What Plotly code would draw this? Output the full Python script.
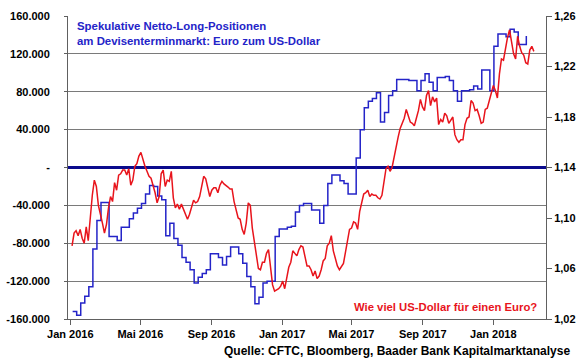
import pandas as pd
import plotly.graph_objects as go

# CFTC net long positions (contracts), weekly from 2016-01-05
cftc_start = "2016-01-05"
cftc_net = [
    -152000, -156000, -143000, -136000, -126000, -86000, -56000, -37000, -37000, -73000,
    -73000, -77000, -63000, -63000, -54000, -48000, -43000, -38000, -28000, -19000,
    -20000, -30000, -34000, -72000, -59000, -75000, -82000, -95000, -100000, -108000,
    -122000, -116000, -112000, -108000, -91000, -91000, -95000, -103000, -94000, -84000,
    -84000, -91000, -101000, -115000, -126000, -144000, -137000, -122000, -120000, -120000,
    -73000, -65000, -65000, -63000, -62000, -47000, -40000, -38000, -38000, -45000,
    -45000, -59000, -40000, -17000, -8000, -8000, -14000, -17000, -28000, -28000,
    10000, 40000, 63000, 70000, 73000, 79000, 48000, 58000, 76000, 81000,
    93000, 93000, 93000, 92000, 92000, 81000, 92000, 99000, 90000, 81000,
    95000, 95000, 96000, 92000, 81000, 70000, 81000, 81000, 82000, 86000,
    83000, 103000, 103000, 81000, 128000, 141000, 141000, 138000, 146000, 143000,
    130000, 130000, 139000,
]

# EUR/USD, sampled every 3.5 days from 2016-01-04
fx_start = "2016-01-04"
eurusd = [
    1.078, 1.088, 1.090, 1.086, 1.091, 1.084, 1.080, 1.093, 1.082, 1.101,
    1.118, 1.130, 1.125, 1.110, 1.104, 1.096, 1.088, 1.095, 1.108, 1.117,
    1.113, 1.128, 1.122, 1.134, 1.135, 1.138, 1.138, 1.134, 1.139, 1.126,
    1.130, 1.141, 1.143, 1.149, 1.152, 1.146, 1.141, 1.137, 1.133, 1.1315,
    1.126, 1.120, 1.112, 1.117, 1.135, 1.138, 1.125, 1.130, 1.129, 1.137,
    1.116, 1.108, 1.111, 1.107, 1.111, 1.107, 1.103, 1.099, 1.103, 1.108,
    1.114, 1.112, 1.113, 1.117, 1.124, 1.133, 1.131, 1.125, 1.117, 1.122,
    1.124, 1.124, 1.120, 1.126, 1.129, 1.127, 1.126, 1.1245, 1.123, 1.123,
    1.113, 1.107, 1.100, 1.099, 1.091, 1.087, 1.096, 1.112, 1.110, 1.092,
    1.080, 1.069, 1.060, 1.059, 1.065, 1.065, 1.072, 1.075, 1.058, 1.047,
    1.042, 1.043, 1.044, 1.046, 1.050, 1.044, 1.054, 1.061, 1.065, 1.074,
    1.072, 1.070, 1.075, 1.078, 1.077, 1.068, 1.062, 1.062, 1.059, 1.054,
    1.058, 1.052, 1.054, 1.059, 1.066, 1.068, 1.078, 1.080, 1.086, 1.074,
    1.067, 1.062, 1.059, 1.062, 1.064, 1.073, 1.083, 1.091, 1.092, 1.097,
    1.096, 1.091, 1.105, 1.113, 1.119, 1.120, 1.122, 1.117, 1.119, 1.118,
    1.118, 1.116, 1.115, 1.118, 1.128, 1.139, 1.141, 1.137, 1.140, 1.149,
    1.158, 1.164, 1.171, 1.175, 1.179, 1.186, 1.180, 1.176, 1.175, 1.173,
    1.179, 1.185, 1.194, 1.188, 1.185, 1.197, 1.201, 1.189, 1.196, 1.192,
    1.195, 1.174, 1.178, 1.176, 1.183, 1.181, 1.175, 1.178, 1.180, 1.166,
    1.162, 1.160, 1.162, 1.162, 1.174, 1.179, 1.180, 1.193, 1.191, 1.185,
    1.186, 1.181, 1.175, 1.176, 1.186, 1.187, 1.193, 1.200, 1.205, 1.201,
    1.195, 1.214, 1.226, 1.225, 1.236, 1.243, 1.249, 1.239, 1.230, 1.226,
    1.244, 1.236, 1.231, 1.229, 1.223, 1.222, 1.233, 1.236, 1.232,
]

x_tick_dates = ["2016-01-01", "2016-05-01", "2016-09-01", "2017-01-01",
                "2017-05-01", "2017-09-01", "2018-01-01"]
x_tick_labels = ["Jan 2016", "Mai 2016", "Sep 2016", "Jan 2017",
                 "Mai 2017", "Sep 2017", "Jan 2018"]
left_ticks = [-160000, -120000, -80000, -40000, 0, 40000, 80000, 120000, 160000]
left_labels = ["-160.000", "-120.000", "-80.000", "-40.000", "-",
               "40.000", "80.000", "120.000", "160.000"]
right_ticks = [1.02, 1.06, 1.10, 1.14, 1.18, 1.22, 1.26]
right_labels = ["1,02", "1,06", "1,10", "1,14", "1,18", "1,22", "1,26"]

cftc_dates = pd.date_range(cftc_start, periods=len(cftc_net), freq="7D")
fx_dates = pd.date_range(fx_start, periods=len(eurusd), freq="84h")

BLUE = "#2424c8"
RED = "#e8141c"
FONT = "Arial, Liberation Sans, sans-serif"
FS = 11


def b(s):
    return "<b>" + s + "</b>"


fig = go.Figure()
fig.add_trace(go.Scatter(x=cftc_dates, y=cftc_net, mode="lines",
                         line=dict(color=BLUE, width=1.5, shape="hv"),
                         yaxis="y", showlegend=False, hoverinfo="skip"))
fig.add_trace(go.Scatter(x=fx_dates, y=eurusd, mode="lines",
                         line=dict(color=RED, width=1.5),
                         yaxis="y2", showlegend=False, hoverinfo="skip"))

tick_font = dict(family=FONT, size=FS, color="black")

fig.update_layout(
    width=580, height=359, autosize=False,
    margin=dict(l=68, r=34, t=16, b=40, autoexpand=False),
    paper_bgcolor="white", plot_bgcolor="white",
    font=dict(family=FONT, size=FS, color="black"),
    xaxis=dict(
        range=["2015-12-28", "2018-04-02"], automargin=False,
        tickvals=x_tick_dates, ticktext=[b(t) for t in x_tick_labels],
        ticks="outside", ticklen=5, tickcolor="#606060",
        showline=True, linecolor="#606060", linewidth=1,
        showgrid=False, zeroline=False, tickfont=tick_font,
    ),
    yaxis=dict(
        range=[-160000, 160000], automargin=False,
        tickvals=left_ticks, ticktext=[b(t) for t in left_labels],
        showgrid=True, gridcolor="#7a7a7a", gridwidth=1,
        showline=True, linecolor="#606060", linewidth=1,
        zeroline=True, zerolinecolor="#0a0a8c", zerolinewidth=2.5,
        ticks="outside", ticklen=3, tickcolor="#606060",
        ticklabelstandoff=12, tickfont=tick_font,
    ),
    yaxis2=dict(
        range=[1.02, 1.26], overlaying="y", side="right", automargin=False,
        tickvals=right_ticks, ticktext=[b(t) for t in right_labels],
        showgrid=False, zeroline=False,
        showline=True, linecolor="#606060", linewidth=1,
        ticks="outside", ticklen=5, tickcolor="#606060",
        tickfont=tick_font,
    ),
    annotations=[
        dict(text=b("Spekulative Netto-Long-Positionen") + "<br>" + b("am Devisenterminmarkt: Euro zum US-Dollar"),
             xref="paper", yref="paper", x=0.0146, y=0.993, xanchor="left", yanchor="top",
             align="left", showarrow=False,
             font=dict(family=FONT, size=11.4, color=BLUE)),
        dict(text=b("Wie viel US-Dollar für einen Euro?"),
             xref="paper", yref="paper", x=0.986, y=0.041, xanchor="right", yanchor="middle",
             showarrow=False,
             font=dict(family=FONT, size=11.3, color=RED)),
        dict(text=b("Quelle: CFTC, Bloomberg, Baader Bank Kapitalmarktanalyse"),
             xref="paper", yref="paper", x=1.054, y=-0.104, xanchor="right", yanchor="middle",
             showarrow=False,
             font=dict(family=FONT, size=12, color="black")),
    ],
)

fig.write_html("out.html", config={"displayModeBar": False})

# remove the default page margin so the figure sits at the window's top-left corner
with open("out.html", encoding="utf-8") as f:
    html = f.read()
html = html.replace("<head>", "<head><style>html,body{margin:0;padding:0;overflow:hidden}</style>", 1)
with open("out.html", "w", encoding="utf-8") as f:
    f.write(html)
